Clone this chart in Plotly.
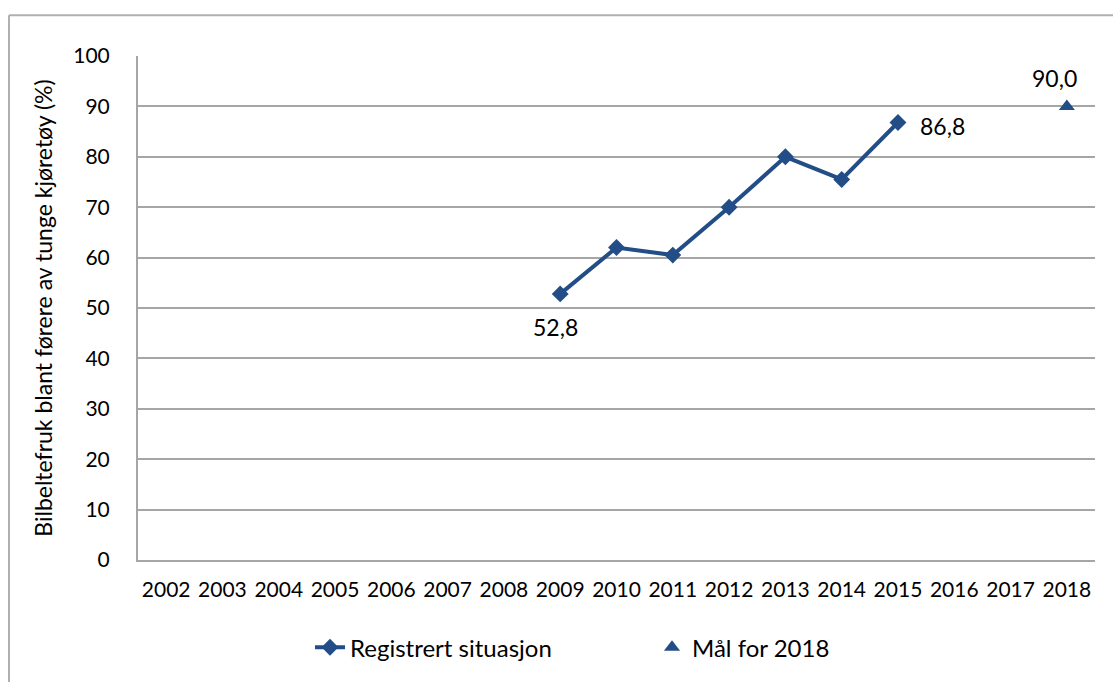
import plotly.graph_objects as go

years = [str(y) for y in range(2002, 2019)]
reg_years = ["2009", "2010", "2011", "2012", "2013", "2014", "2015"]
reg_values = [52.8, 62.0, 60.5, 70.0, 80.0, 75.5, 86.8]
goal_years = ["2018"]
goal_values = [90.0]
y_title = "Bilbeltefruk blant førere av tunge kjøretøy (%)"

BLUE = "#234D86"
GRID = "#A6A6A6"
FONT = "Lato"

def fmt(v):
    return f"{v:.1f}".replace(".", ",")

fig = go.Figure()
fig.add_trace(go.Scatter(
    x=reg_years, y=reg_values, name="Registrert situasjon",
    mode="lines+markers",
    line=dict(color=BLUE, width=4),
    marker=dict(symbol="diamond", size=13, color=BLUE),
    cliponaxis=False,
))
fig.add_trace(go.Scatter(
    x=goal_years, y=goal_values, name="Mål for 2018",
    mode="markers",
    marker=dict(symbol="triangle-up", size=14, color=BLUE),
    cliponaxis=False,
))

label_font = dict(size=23, color="black", family=FONT)
annotations = [
    dict(x=years.index(reg_years[0]), y=reg_values[0], text=fmt(reg_values[0]), showarrow=False,
         xshift=-5, yshift=-33, font=label_font),
    dict(x=years.index(reg_years[-1]), y=reg_values[-1], text=fmt(reg_values[-1]), showarrow=False,
         xanchor="left", xshift=20, yshift=-3, font=label_font),
    dict(x=years.index(goal_years[0]), y=goal_values[0], text=fmt(goal_values[0]), showarrow=False,
         xshift=-12, yshift=28, font=label_font),
]

L, R, T, B = 138, 18, 56, 120
W, H = 1113, 682
pw, ph = W - L - R, H - T - B

def px_x(x):
    return (x - L) / pw

def px_y(y):
    return (H - B - y) / ph

fig.update_layout(
    width=W, height=H,
    margin=dict(l=L, r=R, t=T, b=B),
    paper_bgcolor="white", plot_bgcolor="white",
    font=dict(family=FONT, size=21, color="black"),
    showlegend=True,
    annotations=annotations,
    legend=dict(
        orientation="h", x=px_x(310), xanchor="left", y=px_y(650), yanchor="middle",
        font=dict(size=24, family=FONT), entrywidth=297, entrywidthmode="pixels",
        traceorder="normal",
    ),
    xaxis=dict(
        type="category", categoryorder="array", categoryarray=years,
        range=[-0.5, len(years) - 0.5],
        showgrid=False, showline=True, linecolor=GRID, linewidth=2,
        ticks="", tickfont=dict(size=21, family=FONT), ticklabelstandoff=10,
    ),
    yaxis=dict(
        range=[0, 100], dtick=10, showgrid=True, gridcolor=GRID, gridwidth=2,
        showline=True, linecolor=GRID, linewidth=2, ticks="",
        zeroline=False, ticklabelstandoff=22,
        tickfont=dict(size=21, family=FONT),
        title=dict(text=y_title, font=dict(size=23, family=FONT), standoff=14),
    ),
    shapes=[
        dict(type="line", xref="paper", yref="paper",
             x0=px_x(9), x1=px_x(1120), y0=px_y(15), y1=px_y(15),
             line=dict(color="#B0B0B0", width=2)),
        dict(type="line", xref="paper", yref="paper",
             x0=px_x(9), x1=px_x(9), y0=px_y(15), y1=px_y(700),
             line=dict(color="#B0B0B0", width=2)),
    ],
)

fig.write_html("out.html")
